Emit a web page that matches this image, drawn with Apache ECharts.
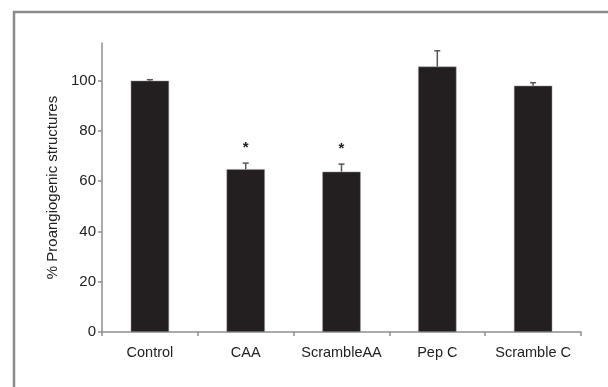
<!DOCTYPE html>
<html>
<head>
<meta charset="utf-8">
<script src="https://cdn.jsdelivr.net/npm/echarts@6/dist/echarts.min.js"></script>
<style>
html,body{margin:0;padding:0;background:#fff;}
#chart{width:608px;height:387px;}
</style>
</head>
<body>
<div id="chart"></div>
<script>
var categories = ['Control', 'CAA', 'ScrambleAA', 'Pep C', 'Scramble C'];
var values = [100, 64.8, 63.8, 105.6, 98.0];
var errors = [0.4, 2.4, 3.0, 6.3, 1.2];
var marks = ['', '*', '*', '', ''];
var yTicks = [0, 20, 40, 60, 80, 100];

var chart = echarts.init(document.getElementById('chart'));
var axisColor = '#8f8f8f';
var font = 'Liberation Sans, Arial, Helvetica, sans-serif';

var errData = values.map(function (v, i) { return [i, v, errors[i], marks[i]]; });

chart.setOption({
  animation: false,
  graphic: [{
    type: 'rect',
    shape: { x: 14, y: 12, width: 700, height: 500 },
    style: { fill: 'none', stroke: '#8a8a8a', lineWidth: 2.5 },
    silent: true
  }],
  grid: { left: 102, right: 27, top: 43, bottom: 55, containLabel: false },
  xAxis: {
    type: 'category',
    data: categories,
    boundaryGap: true,
    axisLine: { lineStyle: { color: axisColor, width: 1.5 } },
    axisTick: { show: true, length: 4, inside: false, interval: 0, lineStyle: { color: axisColor, width: 1.5 } },
    axisLabel: { color: '#222', fontSize: 14.5, fontFamily: font, margin: 13, interval: 0, hideOverlap: false }
  },
  yAxis: {
    type: 'value',
    min: 0,
    max: 115,
    interval: 20,
    name: '% Proangiogenic structures',
    nameLocation: 'middle',
    nameGap: 35,
    nameTextStyle: { color: '#222', fontSize: 15, fontFamily: font },
    splitLine: { show: false },
    axisLine: { show: true, lineStyle: { color: axisColor, width: 1.5 } },
    axisTick: { show: true, length: 4, customValues: yTicks, lineStyle: { color: axisColor, width: 1.5 } },
    axisLabel: { color: '#222', fontSize: 15, fontFamily: font, margin: 6, customValues: yTicks }
  },
  series: [{
    type: 'bar',
    data: values,
    barWidth: '40%',
    itemStyle: { color: '#231f20', borderColor: '#9a9a9a', borderWidth: 0.5 },
    z: 2
  }, {
    type: 'custom',
    data: errData,
    z: 3,
    renderItem: function (params, api) {
      var i = api.value(0);
      var v = api.value(1);
      var e = api.value(2);
      var base = api.coord([i, v]);
      var top = api.coord([i, v + e]);
      var half = 3;
      var children = [{
        type: 'line',
        shape: { x1: base[0], y1: base[1], x2: top[0], y2: top[1] },
        style: { stroke: '#555', lineWidth: 1.5 }
      }, {
        type: 'line',
        shape: { x1: top[0] - half, y1: top[1], x2: top[0] + half, y2: top[1] },
        style: { stroke: '#555', lineWidth: 1.5 }
      }];
      var m = marks[params.dataIndex];
      if (m) {
        children.push({
          type: 'text',
          style: {
            text: m, x: top[0], y: top[1] - 15,
            fill: '#222', font: 'bold 15px ' + font,
            align: 'center', verticalAlign: 'middle'
          }
        });
      }
      return { type: 'group', children: children };
    }
  }]
});
</script>
</body>
</html>
